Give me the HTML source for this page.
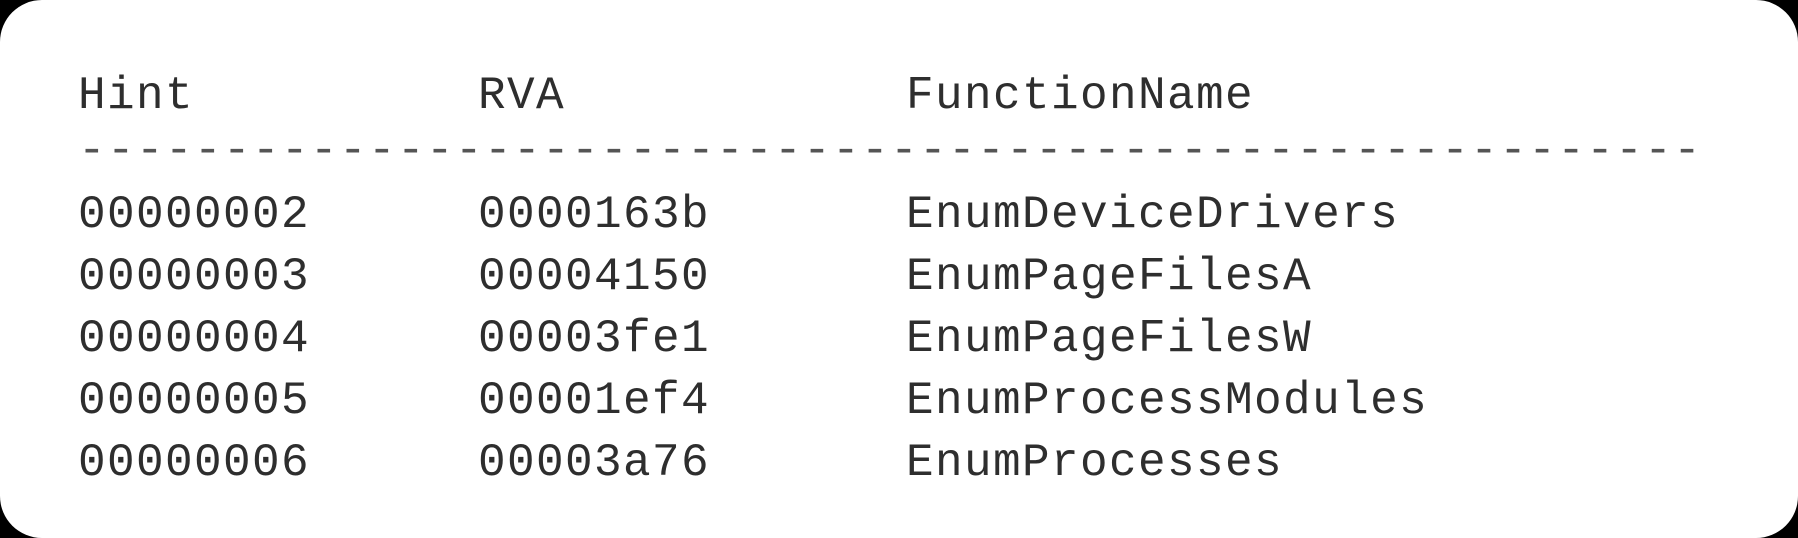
<!DOCTYPE html>
<html><head><style>
html,body{margin:0;padding:0;background:#000;}
.card{position:absolute;left:0;top:0;width:1798px;height:538px;background:#fff;border-radius:42px;overflow:hidden;}
.t{position:absolute;font-family:"Liberation Mono",monospace;font-size:46px;letter-spacing:1.4px;color:#2e2e2e;white-space:pre;line-height:1;}
</style></head><body>
<div class="card">
<div class="t" style="left:78px;top:73px">Hint</div>
<div class="t" style="left:478px;top:73px">RVA</div>
<div class="t" style="left:906px;top:73px">FunctionName</div>
<div class="t" style="left:78px;top:128px;color:#555">--------------------------------------------------------</div>
<div class="t" style="left:78px;top:192px">00000002</div><div class="t" style="left:478px;top:192px">0000163b</div><div class="t" style="left:906px;top:192px">EnumDeviceDrivers</div>
<div class="t" style="left:78px;top:254px">00000003</div><div class="t" style="left:478px;top:254px">00004150</div><div class="t" style="left:906px;top:254px">EnumPageFilesA</div>
<div class="t" style="left:78px;top:316px">00000004</div><div class="t" style="left:478px;top:316px">00003fe1</div><div class="t" style="left:906px;top:316px">EnumPageFilesW</div>
<div class="t" style="left:78px;top:378px">00000005</div><div class="t" style="left:478px;top:378px">00001ef4</div><div class="t" style="left:906px;top:378px">EnumProcessModules</div>
<div class="t" style="left:78px;top:440px">00000006</div><div class="t" style="left:478px;top:440px">00003a76</div><div class="t" style="left:906px;top:440px">EnumProcesses</div>
</div>
</body></html>
